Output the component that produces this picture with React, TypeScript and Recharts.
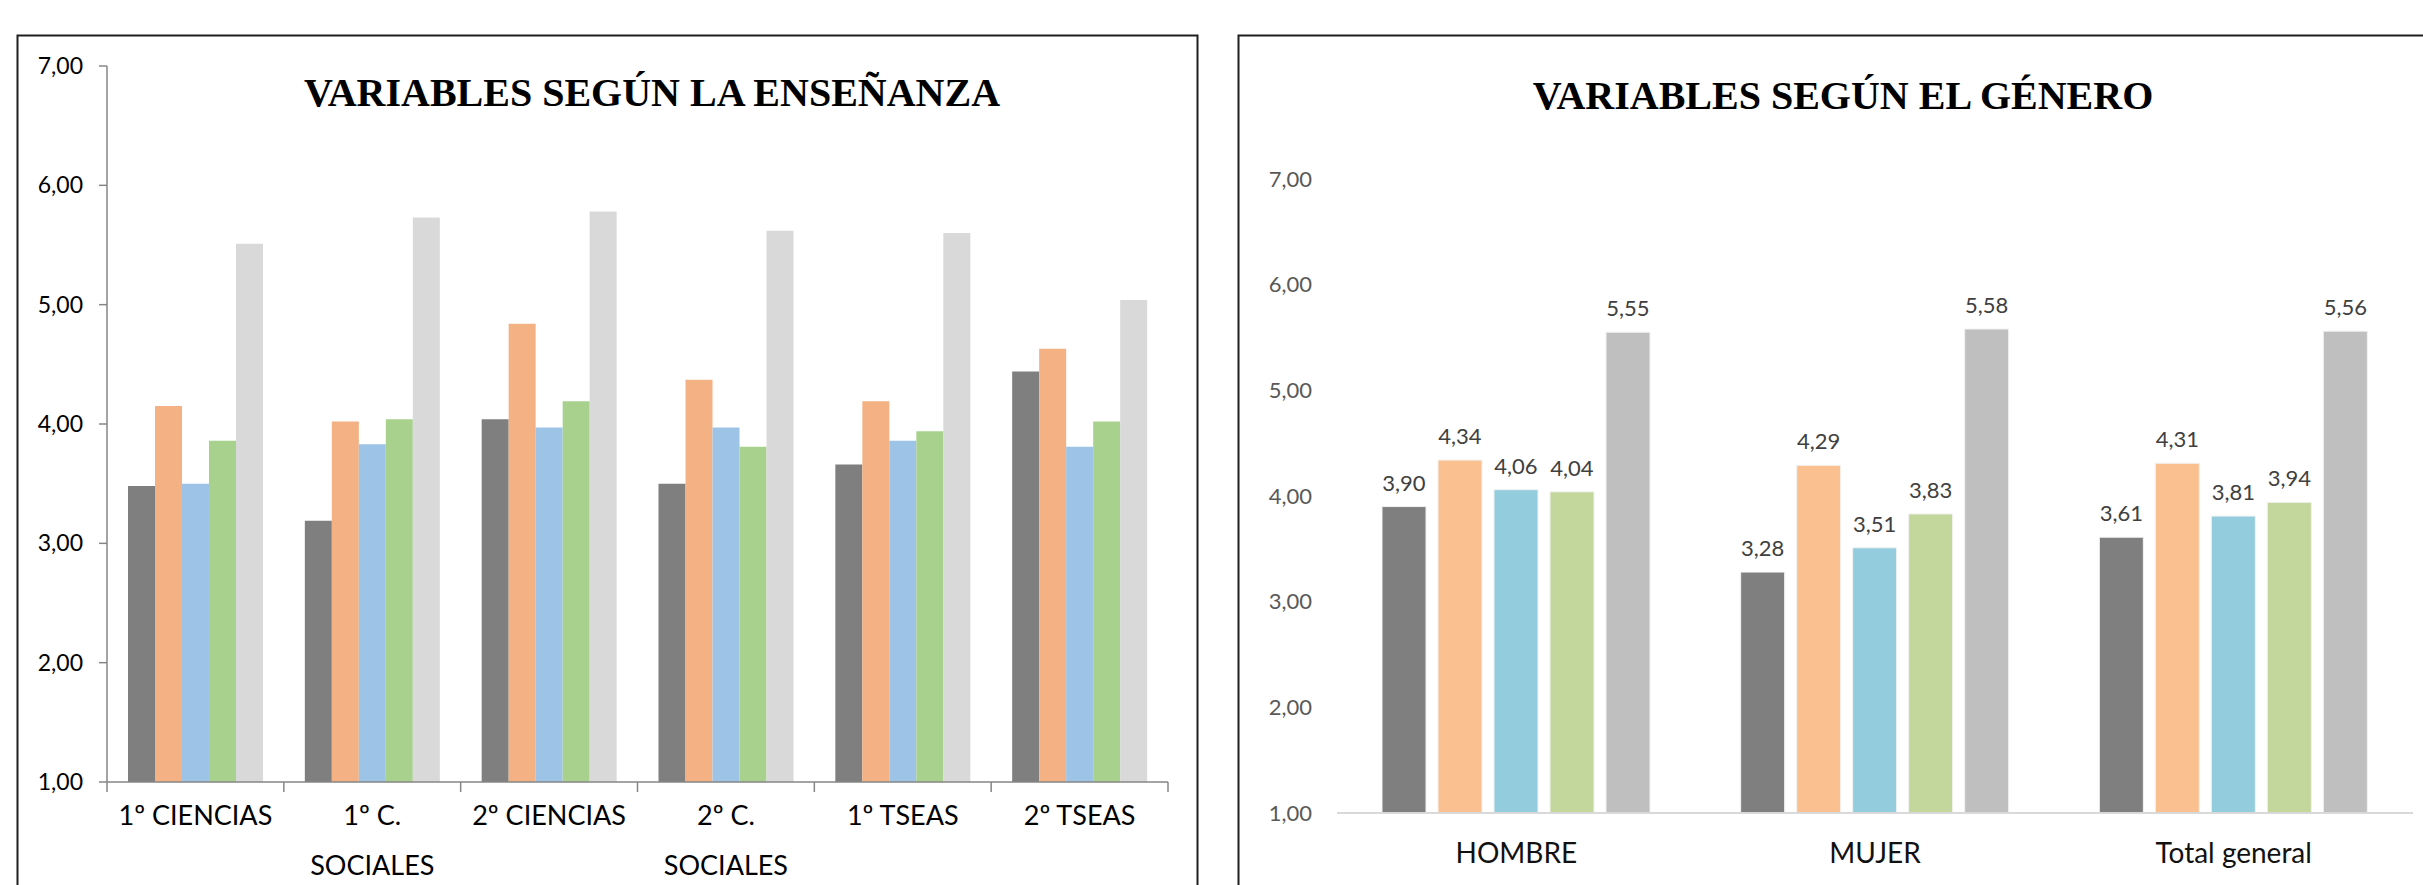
import { BarChart, Bar, XAxis, YAxis, LabelList } from "recharts"

// VARIABLES SEGÚN LA ENSEÑANZA
const ensenanzaCategorias = ["1º CIENCIAS", "1º C. SOCIALES", "2º CIENCIAS", "2º C. SOCIALES", "1º TSEAS", "2º TSEAS"]
const ensenanzaV1 = [3.48, 3.19, 4.04, 3.50, 3.66, 4.44]
const ensenanzaV2 = [4.15, 4.02, 4.84, 4.37, 4.19, 4.63]
const ensenanzaV3 = [3.50, 3.83, 3.97, 3.97, 3.86, 3.81]
const ensenanzaV4 = [3.86, 4.04, 4.19, 3.81, 3.94, 4.02]
const ensenanzaV5 = [5.51, 5.73, 5.78, 5.62, 5.60, 5.04]

// VARIABLES SEGÚN EL GÉNERO
const generoCategorias = ["HOMBRE", "MUJER", "Total general"]
const generoV1 = [3.90, 3.28, 3.61]
const generoV2 = [4.34, 4.29, 4.31]
const generoV3 = [4.06, 3.51, 3.81]
const generoV4 = [4.04, 3.83, 3.94]
const generoV5 = [5.55, 5.58, 5.56]

const yTicks = [1, 2, 3, 4, 5, 6, 7]

const coloresEnsenanza = ["#7f7f7f", "#f4b183", "#9dc3e6", "#a9d18e", "#d9d9d9"]
const coloresGenero = ["#7f7f7f", "#fac090", "#93cddd", "#c3d69b", "#bfbfbf"]

const ensenanzaData = ensenanzaCategorias.map((cat, i) => ({
  cat,
  v1: ensenanzaV1[i],
  v2: ensenanzaV2[i],
  v3: ensenanzaV3[i],
  v4: ensenanzaV4[i],
  v5: ensenanzaV5[i],
}))

const generoData = generoCategorias.map((cat, i) => ({
  cat,
  v1: generoV1[i],
  v2: generoV2[i],
  v3: generoV3[i],
  v4: generoV4[i],
  v5: generoV5[i],
}))

const SANS = "Lato, 'Open Sans', sans-serif"
const SERIF = "'Liberation Serif', 'Times New Roman', serif"

const fmt = (v: number) => v.toFixed(2).replace(".", ",")

// layout of the left chart
const L_W = 1200
const L_H = 885
const L_MARGIN = { top: 66, right: 32, left: 47, bottom: 3 }
const L_YAXIS_W = 60
const L_PLOT_W = L_W - L_MARGIN.left - L_MARGIN.right - L_YAXIS_W

function wrapLabel(text: string, maxChars: number) {
  const words = text.split(" ")
  const lines: string[] = []
  let cur = ""
  for (const w of words) {
    const next = cur ? cur + " " + w : w
    if (next.length > maxChars && cur) {
      lines.push(cur)
      cur = w
    } else {
      cur = next
    }
  }
  if (cur) lines.push(cur)
  return lines
}

function EnsenanzaTick(props: any) {
  const { x, y, payload, index } = props
  const step = L_PLOT_W / ensenanzaCategorias.length
  const lines = wrapLabel(String(payload.value), 11)
  const last = index === ensenanzaCategorias.length - 1
  return (
    <g>
      <line x1={x - step / 2} x2={x - step / 2} y1={y} y2={y + 10} stroke="#868686" strokeWidth={1.5} />
      {last && <line x1={x + step / 2} x2={x + step / 2} y1={y} y2={y + 10} stroke="#868686" strokeWidth={1.5} />}
      <text x={x} y={y + 43} textAnchor="middle" fontSize={27} fill="#000" fontFamily={SANS}>
        {lines.map((l, i) => (
          <tspan key={i} x={x} dy={i === 0 ? 0 : 50}>{l}</tspan>
        ))}
      </text>
    </g>
  )
}

function EnsenanzaChart() {
  return (
    <BarChart
      width={L_W}
      height={L_H}
      data={ensenanzaData}
      margin={L_MARGIN}
      barSize={27}
      barGap={0}
    >
      <XAxis
        dataKey="cat"
        axisLine={{ stroke: "#868686", strokeWidth: 1.5 }}
        tickLine={false}
        tickSize={0}
        tickMargin={0}
        interval={0}
        height={100}
        tick={<EnsenanzaTick />}
      />
      <YAxis
        domain={[1, 7]}
        ticks={yTicks}
        width={L_YAXIS_W}
        axisLine={{ stroke: "#868686", strokeWidth: 1.5 }}
        tickLine={{ stroke: "#868686", strokeWidth: 1.5 }}
        tickSize={8}
        tickMargin={16}
        tickFormatter={fmt}
        tick={{ fontSize: 23, fill: "#000", fontFamily: SANS }}
      />
      {["v1", "v2", "v3", "v4", "v5"].map((k, i) => (
        <Bar key={k} dataKey={k} fill={coloresEnsenanza[i]} isAnimationActive={false} />
      ))}
    </BarChart>
  )
}

function GeneroChart() {
  return (
    <BarChart
      width={1203}
      height={885}
      data={generoData}
      margin={{ top: 179, right: 10, left: 57, bottom: 2 }}
      barSize={44}
      barGap={12}
    >
      <XAxis
        dataKey="cat"
        axisLine={{ stroke: "#d9d9d9", strokeWidth: 2 }}
        tickLine={false}
        tickSize={0}
        tickMargin={30}
        interval={0}
        height={70}
        tick={{ fontSize: 28, fill: "#111", fontFamily: SANS }}
      />
      <YAxis
        domain={[1, 7]}
        ticks={yTicks}
        width={60}
        axisLine={false}
        tickLine={false}
        tickSize={0}
        tickMargin={25}
        tickFormatter={fmt}
        tick={{ fontSize: 22, fill: "#595959", fontFamily: SANS }}
      />
      {["v1", "v2", "v3", "v4", "v5"].map((k, i) => (
        <Bar key={k} dataKey={k} fill={coloresGenero[i]} stroke="#f2f2f2" strokeWidth={1} isAnimationActive={false}>
          <LabelList
            dataKey={k}
            position="top"
            offset={16}
            formatter={(v: any) => fmt(Number(v))}
            style={{ fontSize: 22, fill: "#404040", fontFamily: SANS }}
          />
        </Bar>
      ))}
    </BarChart>
  )
}

export default function App() {
  return (
    <div style={{ position: "absolute", left: 0, top: 0, width: 2423, height: 885, overflow: "hidden", background: "#fff" }}>
      <div style={{ position: "absolute", left: 0, top: 0 }}>
        <EnsenanzaChart />
      </div>
      <div style={{ position: "absolute", left: 1220, top: 0 }}>
        <GeneroChart />
      </div>
      <svg width={2423} height={885} style={{ position: "absolute", left: 0, top: 0, pointerEvents: "none" }}>
        <rect x={17.5} y={35.5} width={1180} height={900} fill="none" stroke="#1f1f1f" strokeWidth={2} />
        <rect x={1238.5} y={35.5} width={1300} height={900} fill="none" stroke="#1f1f1f" strokeWidth={2} />
        <text x={652} y={106} textAnchor="middle" fontFamily={SERIF} fontWeight="bold" fontSize={40} fill="#000">
          VARIABLES SEGÚN LA ENSEÑANZA
        </text>
        <text x={1843} y={109} textAnchor="middle" fontFamily={SERIF} fontWeight="bold" fontSize={40} fill="#000">
          VARIABLES SEGÚN EL GÉNERO
        </text>
      </svg>
    </div>
  )
}
